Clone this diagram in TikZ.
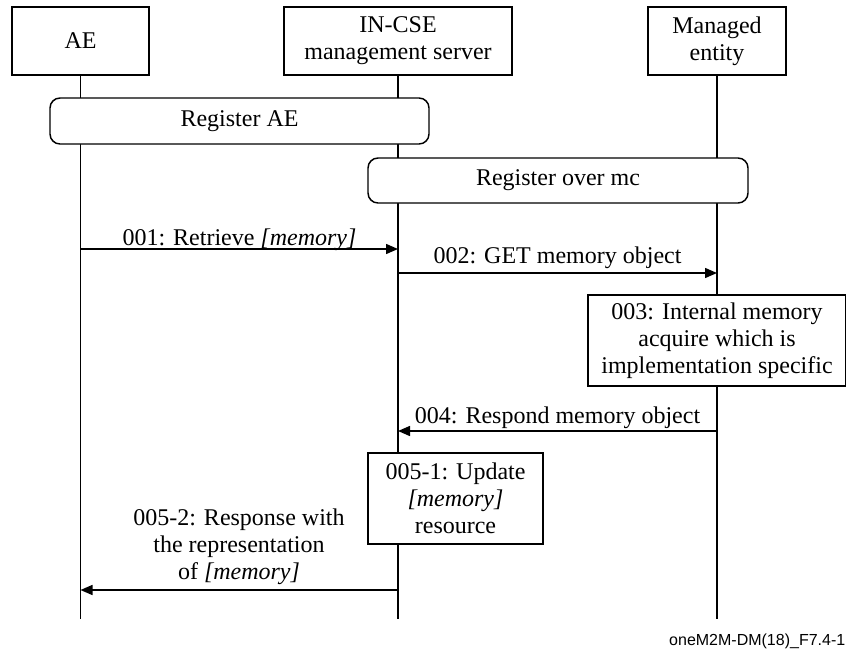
\documentclass[tikz,border=0pt]{standalone}
\usepackage{fontspec}
\setmainfont{Liberation Serif}
\newfontfamily\labelsans{Liberation Sans}
\usetikzlibrary{arrows.meta}
\begin{document}
\begin{tikzpicture}[x=0.75pt, y=-0.75pt, line width=1.1pt,
  every node/.style={font=\fontsize{18pt}{20.25pt}\selectfont, inner sep=0pt, align=center},
  actor/.style={draw, fill=white, minimum height=51pt},
  phase/.style={draw, fill=white, rounded corners=7.5pt},
  stepbox/.style={draw, fill=white, minimum height=68.25pt},
  msg/.style={-{Triangle[length=9pt, width=7.5pt]}}]
  \useasboundingbox (0,0) rectangle (846,650);

  % participants
  \node[actor, minimum width=102.75pt] (ae)  at (80.5,41) {AE};
  \node[actor, minimum width=171pt]    (cse) at (398,41)  {IN-CSE\\management server};
  \node[actor, minimum width=103.5pt]  (me)  at (717,41)  {Managed\\entity};

  % lifelines
  \coordinate (aeEnd)  at (80.5,619);
  \coordinate (cseEnd) at (398,619);
  \coordinate (meEnd)  at (717,619);
  \draw (ae.south)  -- (aeEnd);
  \draw (cse.south) -- (cseEnd);
  \draw (me.south)  -- (meEnd);

  % registration phases
  \node[phase, minimum width=284.25pt, minimum height=34.5pt]  (regae) at (239.5,121) {Register AE};
  \node[phase, minimum width=285pt,    minimum height=33.75pt] (regmc) at (558,180.5) {Register over mc};

  % 001
  \coordinate (m1a) at (80.5,249);
  \coordinate (m1b) at (398,249);
  \draw[msg] (m1a) -- (m1b);
  \node[anchor=base] (l1) at (239.5,245) {001: Retrieve \textit{[memory]}};

  % 002
  \coordinate (m2a) at (398,273);
  \coordinate (m2b) at (717,273);
  \draw[msg] (m2a) -- (m2b);
  \node[anchor=base] (l2) at (557.5,263) {002: GET memory object};

  % 003
  \node[stepbox, minimum width=193.5pt] (s3) at (717,340.5)
    {003: Internal memory\\acquire which is\\implementation specific};

  % 004
  \coordinate (m4a) at (717,431);
  \coordinate (m4b) at (398,431);
  \draw[msg] (m4a) -- (m4b);
  \node[anchor=base] (l4) at (557.5,423) {004: Respond memory object};

  % 005-1
  \node[stepbox, minimum width=131.25pt] (s51) at (455.5,498.5)
    {005-1: Update\\\textit{[memory]}\\resource};

  % 005-2
  \coordinate (m5a) at (398,590);
  \coordinate (m5b) at (80.5,590);
  \draw[msg] (m5a) -- (m5b);
  \node (l5) at (239,546.5) {005-2: Response with\\the representation\\of \textit{[memory]}};

  % figure tag
  \node[font=\labelsans\fontsize{12pt}{14pt}\selectfont, anchor=base east] (tag) at (846,645.5)
    {oneM2M-DM(18)\_F7.4-1};
\end{tikzpicture}
\end{document}
